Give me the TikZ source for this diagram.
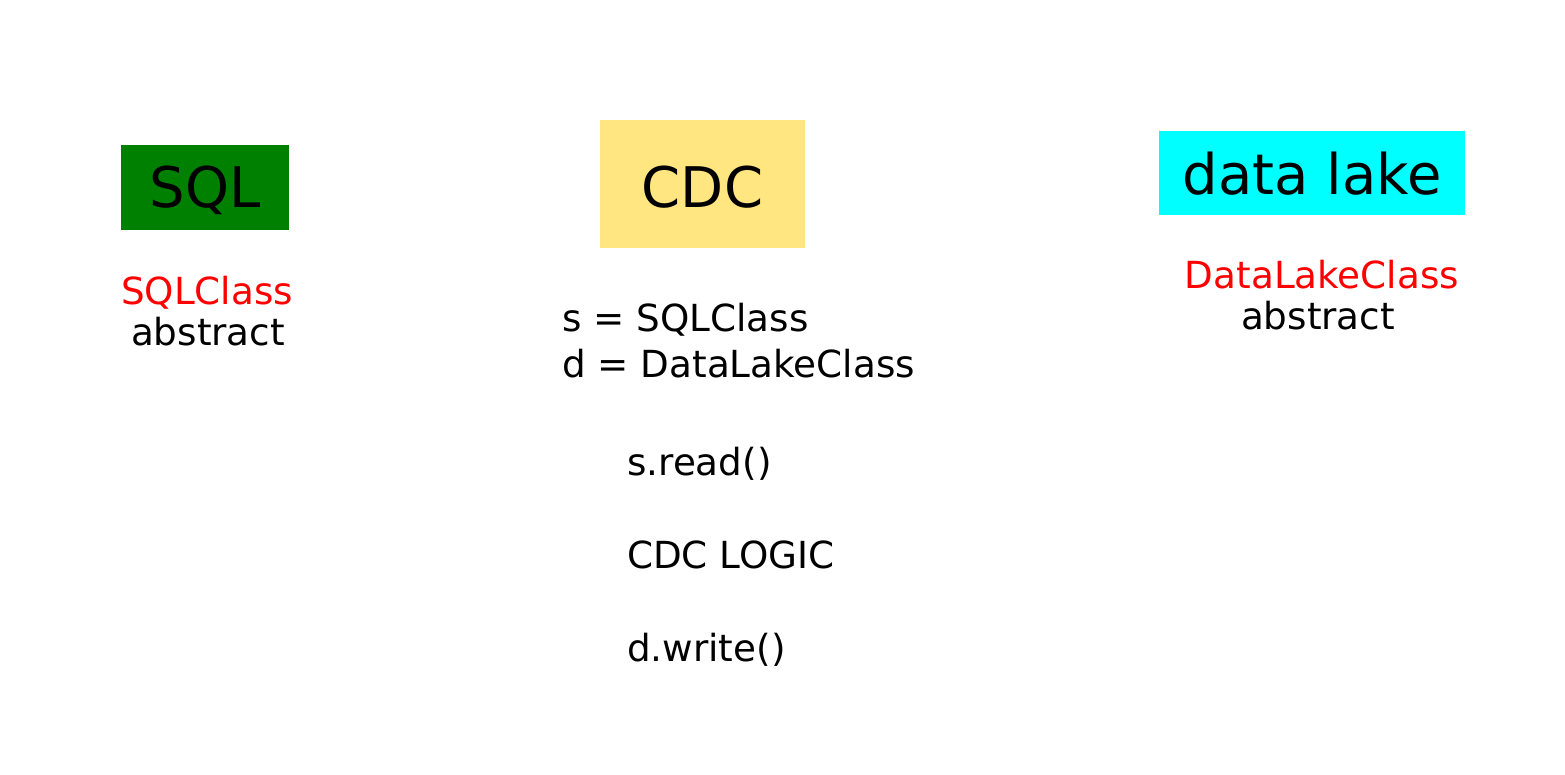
\documentclass[tikz,border=0pt]{standalone}
\usepackage{fontspec}
\setmainfont{DejaVu Sans}
\definecolor{sqlgreen}{RGB}{0,128,0}
\definecolor{cdcyellow}{RGB}{255,230,128}
\definecolor{lakecyan}{RGB}{0,255,255}
\definecolor{clsred}{RGB}{255,0,0}
\begin{document}
\begin{tikzpicture}[x=1pt,y=-1pt,
  box/.style={inner sep=0pt, text depth=0pt, font=\fontsize{56}{64}\selectfont},
  lbl/.style={inner sep=0pt, anchor=base, font=\fontsize{37.3}{44}\selectfont},
  code/.style={inner sep=0pt, anchor=base west, font=\fontsize{37.3}{44}\selectfont}]
\useasboundingbox[fill=white] (0,0) rectangle (1565,775);
\node[box, text height=41pt, fill=sqlgreen, minimum width=168pt, minimum height=85pt] (sql) at (205,187.5) {SQL};
\node[box, text height=48pt, fill=cdcyellow, minimum width=205pt, minimum height=128pt] (cdc) at (702.5,184) {CDC};
\node[box, text height=44pt, fill=lakecyan, minimum width=306pt, minimum height=84pt] (lake) at (1312,173) {data lake};
\node[lbl, text=clsred] (sqlcls) at (207,305) {SQLClass};
\node[lbl] (sqlabs) at (208,345) {abstract};
\node[lbl, text=clsred] (lakecls) at (1322,289) {DataLakeClass};
\node[lbl] (lakeabs) at (1318,330) {abstract};
\node[code] (s) at (562,331) {s = SQLClass};
\node[code] (d) at (562,377) {d = DataLakeClass};
\node[code] (read) at (627,475) {s.read()};
\node[code] (logic) at (627,568) {CDC LOGIC};
\node[code] (write) at (627,661) {d.write()};
\end{tikzpicture}
\end{document}
